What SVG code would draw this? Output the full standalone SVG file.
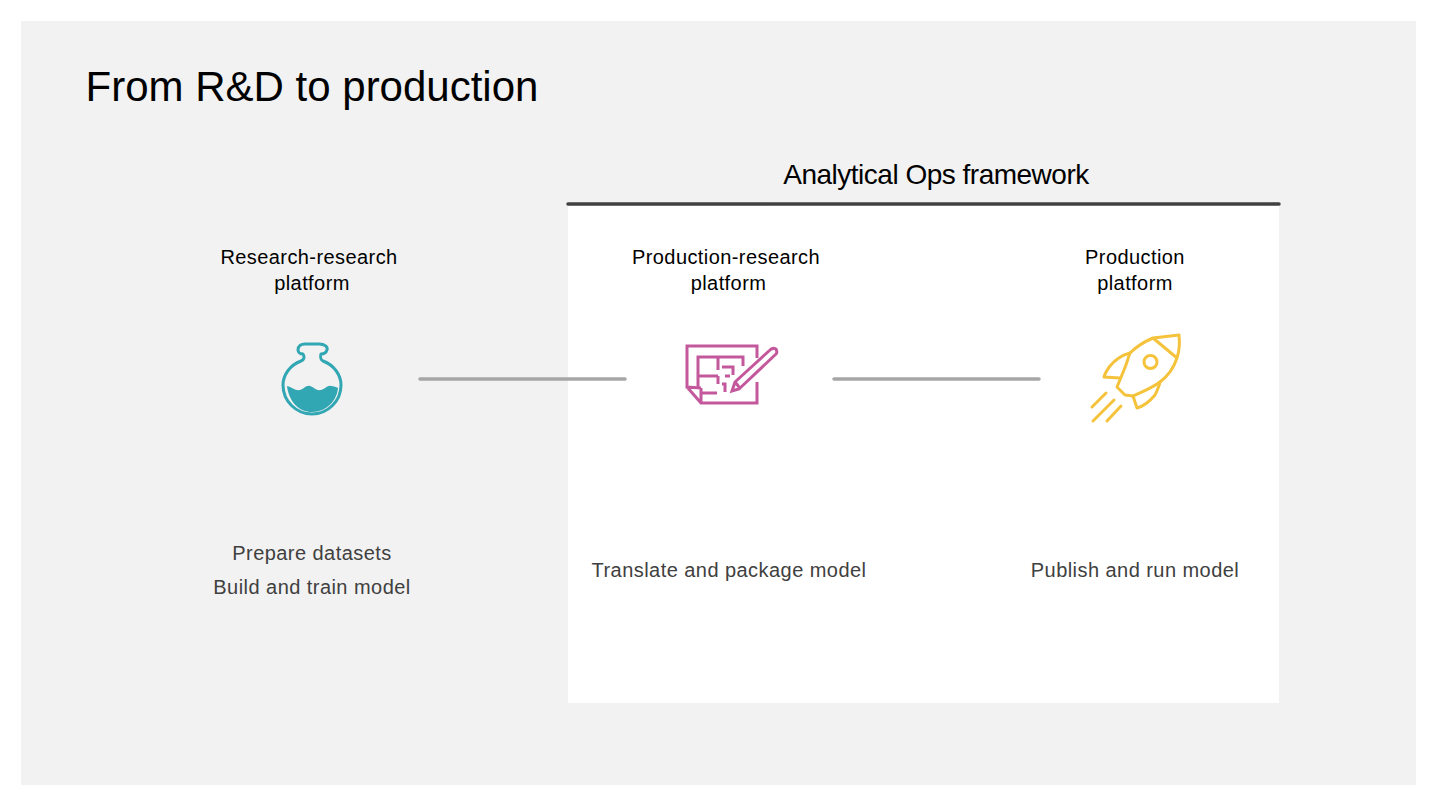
<svg xmlns="http://www.w3.org/2000/svg" width="1440" height="811" viewBox="0 0 1440 811">
<style>
text{font-family:"Liberation Sans",Arial,sans-serif;text-anchor:middle}
.h{font-size:20px;fill:#000;letter-spacing:.42px}
.d{font-size:20px;fill:#404040;letter-spacing:.45px}
.conn{stroke:#a6a6a6;stroke-width:3.5;stroke-linecap:round;fill:none}
.teal{stroke:#31a7b3;stroke-width:3;fill:none;stroke-linejoin:round;stroke-linecap:round}
.pink{stroke:#c4589c;stroke-width:3;fill:none;stroke-linejoin:miter}
.gold{stroke:#f5c33b;stroke-width:3;fill:none;stroke-linejoin:round;stroke-linecap:round}
</style>
<rect width="1440" height="811" fill="#fff"/>
<rect x="21" y="21" width="1395" height="764" fill="#f2f2f2"/>
<text x="312" y="101" font-size="42" fill="#000">From R&amp;D to production</text>
<g id="framework">
<rect x="568" y="204" width="711" height="499" fill="#fff"/>
<line x1="568" y1="204" x2="1279" y2="204" stroke="#404040" stroke-width="3.5" stroke-linecap="round"/>
<text x="936" y="184" font-size="28" fill="#000" letter-spacing="-.5">Analytical Ops framework</text>
</g>
<g id="connectors">
<line class="conn" x1="420" y1="379" x2="625" y2="379"/>
<line class="conn" x1="834" y1="379" x2="1039" y2="379"/>
</g>
<g id="research">
<text class="h" x="309" y="264">Research-research</text>
<text class="h" x="312" y="290">platform</text>
<path class="teal" d="M305 344h14c6 0 9 3 8 6c-1 3-4 4-6 4c-1 3 0 6 2 7c11 4 18 14 18 24a29 29 0 0 1-58 0c0-10 7-20 18-24c3-1 4-4 2-7c-3 0-5-2-5-4c0-4 3-6 7-6z"/>
<path d="M287 386c5 1 8 5 13 4c4-1 6-5 10-4c4 1 6 5 11 4c4-1 7-5 10-4c3 0 5 1 7 2c-1 12-11 24-26 24c-13 0-23-10-25-26z" fill="#31a7b3"/>
<text class="d" x="312" y="560">Prepare datasets</text>
<text class="d" x="312" y="594">Build and train model</text>
</g>
<g id="production-research">
<text class="h" x="726" y="264">Production-research</text>
<text class="h" x="728.500" y="290">platform</text>
<path class="pink" d="M701 388l-14-1V346h70v12M757 382v21H701l-14-16M701 388v15"/>
<path class="pink" d="M698 388V357h45v9M698 376h20M701 393h16M718 357v13M718 376v8M722 367h11v8M725 392v-8h-3M725 376h5"/>
<path class="pink" d="M732 391l3-9 35-32c2-2 4-2 6-1c1 2 1 4 0 5l-37 35zM735 382l4 5"/>
<text class="d" x="729" y="577">Translate and package model</text>
</g>
<g id="production">
<text class="h" x="1135" y="264">Production</text>
<text class="h" x="1135" y="290">platform</text>
<path class="gold" d="M1153 338L1179 335C1180 344 1179 352 1177 358C1174 367 1168 376 1160 382C1152 388 1142 392 1133 396L1125 395L1117 387L1124 370C1127 363 1128 358 1130 353C1137 346 1146 341 1153 338ZM1153 338L1177 358"/>
<circle class="gold" cx="1150.500" cy="362" r="6.500"/>
<path class="gold" d="M1130 353C1122 355 1115 360 1110 366C1107 370 1105 373 1104 377L1120 378M1160 382C1159 387 1157 391 1155 395C1150 401 1144 406 1137 408L1133 396"/>
<path class="gold" d="M1106 393L1092 407M1114 400L1093 421M1121 406L1107 421"/>
<text class="d" x="1135" y="577">Publish and run model</text>
</g>
</svg>
